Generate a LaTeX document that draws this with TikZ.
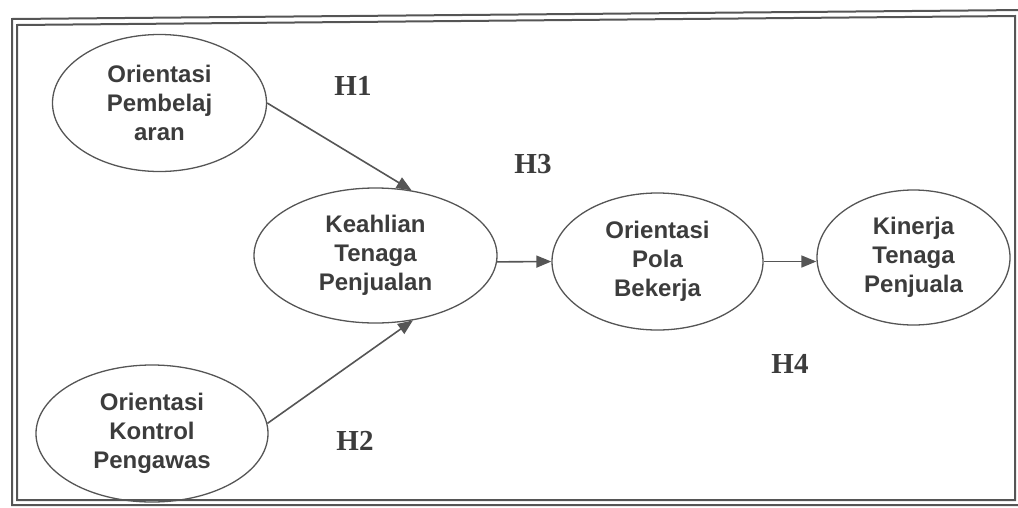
\documentclass[tikz,border=0pt]{standalone}
\usepackage{fontspec}
\setmainfont{Liberation Serif}
\setsansfont{Liberation Sans}
\usetikzlibrary{shapes.geometric,arrows.meta}
\definecolor{ink}{HTML}{3C3C3C}
\definecolor{lin}{HTML}{555555}
\tikzset{
  var/.style={ellipse, draw=lin, line width=1.3pt, inner sep=0pt, align=center,
    text=ink, font=\sffamily\bfseries\fontsize{24}{29}\selectfont},
  hyp/.style={text=ink, font=\rmfamily\bfseries\fontsize{29}{29}\selectfont, inner sep=0pt},
  arr/.style={draw=lin, line width=1.6pt, -{Triangle[length=15pt,width=12pt]}},
  frame/.style={draw=lin, line width=2pt}
}
\begin{document}
\begin{tikzpicture}[x=1pt,y=-1pt]
\useasboundingbox (0,0) rectangle (1018,507);
\begin{scope}
\clip (0,0) rectangle (1018,507);
% double frame
\draw[frame] (1024,10) -- (12,19) -- (12,505) -- (1024,505);
\draw[frame] (1015,16) -- (17,25) -- (17,500) -- (1015,500) -- cycle;
\end{scope}

\node[var, minimum width=214pt, minimum height=137pt] (e1) at (159.5,103) {Orientasi\\Pembelaj\\aran};
\node[var, minimum width=243pt, minimum height=135pt] (e2) at (375.5,255.5) {Keahlian\\Tenaga\\Penjualan};
\node[var, minimum width=211pt, minimum height=137pt] (e3) at (657.5,261.5) {Orientasi\\Pola\\Bekerja};
\node[var, minimum width=232pt, minimum height=137pt] (e4) at (152,433.5) {Orientasi\\Kontrol\\Pengawas};
\node[var, minimum width=193pt, minimum height=135pt] (e5) at (913.5,257.5) {Kinerja\\Tenaga\\Penjuala};

\draw[arr] (e1.east) -- (e2.61);
\draw[arr] (e4.5) -- (e2.-60);
\draw[arr] (e2.-3) -- (e3.west);
\draw[arr] (e3.east) -- (e5.west |- e3.east);

\node[hyp] (h1) at (353,86) {H1};
\node[hyp] (h2) at (355,441) {H2};
\node[hyp] (h3) at (533,164) {H3};
\node[hyp] (h4) at (790,364) {H4};
\end{tikzpicture}
\end{document}
